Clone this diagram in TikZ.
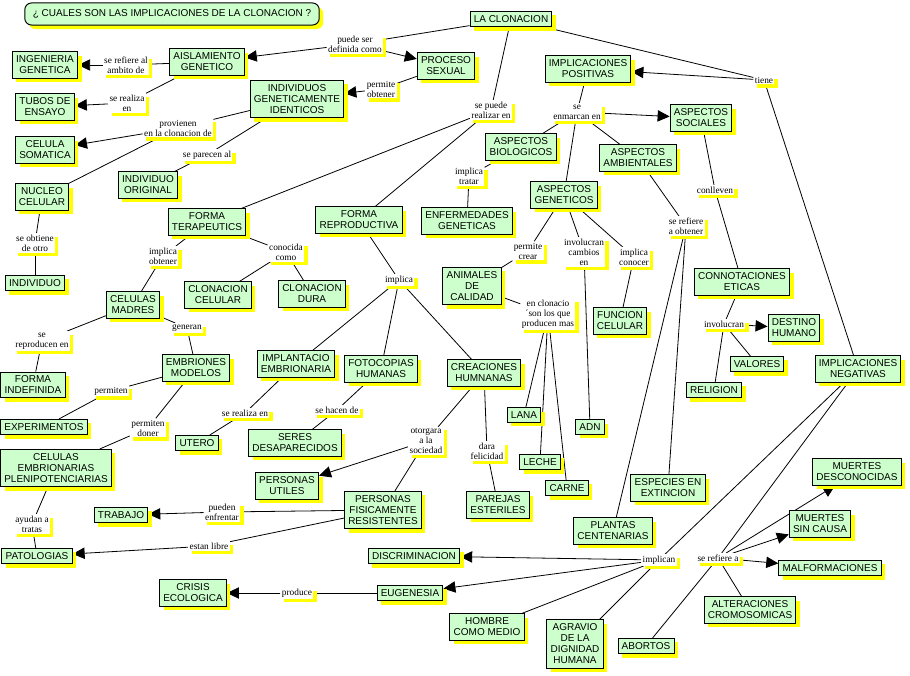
\documentclass[tikz,border=0pt]{standalone}
\usepackage{fontspec}
\setmainfont{Liberation Serif}
\newfontfamily\arialf{Liberation Sans}
\usetikzlibrary{arrows.meta,shadows,backgrounds}
\definecolor{cgreen}{RGB}{204,255,204}
\definecolor{cyel}{RGB}{255,255,0}
\newcommand{\cfnt}{\arialf\fontsize{7.5}{8.25}\selectfont}
\newcommand{\lfnt}{\rmfamily\fontsize{7}{7.5}\selectfont}
\begin{document}
\begin{tikzpicture}[x=0.75pt,y=-0.75pt,
  concept/.style={draw=black, line width=0.75pt, fill=cgreen, font=\cfnt, align=center,
    inner xsep=2.8pt, inner ysep=3pt,
    drop shadow={shadow xshift=3pt, shadow yshift=-3pt, fill=cyel, draw=none, opacity=1}},
  lbl/.style={fill=white, font=\lfnt, align=center, inner sep=1pt,
    drop shadow={shadow xshift=2.5pt, shadow yshift=-2.5pt, fill=cyel, draw=none, opacity=1}},
  conn/.style={line width=0.6pt, black},
  arr/.style={conn, -{Triangle[length=9pt,width=8.5pt]}}]
\useasboundingbox (0,0) rectangle (910,675);

% title
\node[concept, rounded corners=5pt, inner xsep=6pt, inner ysep=5pt] (title) at (172,14) {¿ CUALES SON LAS IMPLICACIONES DE LA CLONACION ?};

% concepts
\node[concept] (clon) at (511,19) {LA CLONACION};
\node[concept] (aisl) at (207,62) {AISLAMIENTO\\GENETICO};
\node[concept] (ing) at (45,65) {INGENIERIA\\GENETICA};
\node[concept] (tubos) at (45,107) {TUBOS DE\\ENSAYO};
\node[concept] (indiv) at (297,99) {INDIVIDUOS\\GENETICAMENTE\\IDENTICOS};
\node[concept] (proc) at (446,66) {PROCESO\\SEXUAL};
\node[concept] (celsom) at (45,150) {CELULA\\SOMATICA};
\node[concept] (indorig) at (148,185) {INDIVIDUO\\ORIGINAL};
\node[concept] (nucleo) at (42,197) {NUCLEO\\CELULAR};
\node[concept] (individuo) at (35,283) {INDIVIDUO};
\node[concept] (terap) at (207,222) {FORMA\\TERAPEUTICS};
\node[concept] (repro) at (359,220) {FORMA\\REPRODUCTIVA};
\node[concept] (implpos) at (588,69) {IMPLICACIONES\\POSITIVAS};
\node[concept] (soc) at (701,118) {ASPECTOS\\SOCIALES};
\node[concept] (bio) at (521,147) {ASPECTOS\\BIOLOGICOS};
\node[concept] (enf) at (467,221) {ENFERMEDADES\\GENETICAS};
\node[concept] (amb) at (638,158) {ASPECTOS\\AMBIENTALES};
\node[concept] (gen) at (564,195) {ASPECTOS\\GENETICOS};
\node[concept] (anim) at (472,286) {ANIMALES\\DE\\CALIDAD};
\node[concept] (adn) at (590,427) {ADN};
\node[concept] (func) at (620,321) {FUNCION\\CELULAR};
\node[concept] (lana) at (524,415) {LANA};
\node[concept] (leche) at (540,462) {LECHE};
\node[concept] (carne) at (567,488) {CARNE};
\node[concept] (plantas) at (613,531) {PLANTAS\\CENTENARIAS};
\node[concept] (especies) at (668,488) {ESPECIES EN\\EXTINCION};
\node[concept] (connot) at (742,282) {CONNOTACIONES\\ETICAS};
\node[concept] (destino) at (794,328) {DESTINO\\HUMANO};
\node[concept] (valores) at (757,364) {VALORES};
\node[concept] (religion) at (714,390) {RELIGION};
\node[concept] (implneg) at (858,369) {IMPLICACIONES\\NEGATIVAS};
\node[concept] (discr) at (414,556) {DISCRIMINACION};
\node[concept] (eug) at (410,593) {EUGENESIA};
\node[concept] (crisis) at (193,593) {CRISIS\\ECOLOGICA};
\node[concept] (hombre) at (487,627) {HOMBRE\\COMO MEDIO};
\node[concept] (agravio) at (575,644) {AGRAVIO\\DE LA\\DIGNIDAD\\HUMANA};
\node[concept] (mdesc) at (857,472) {MUERTES\\DESCONOCIDAS};
\node[concept] (msin) at (820,524) {MUERTES\\SIN CAUSA};
\node[concept] (malf) at (830,568) {MALFORMACIONES};
\node[concept] (alter) at (750,610) {ALTERACIONES\\CROMOSOMICAS};
\node[concept] (abortos) at (646,646) {ABORTOS};
\node[concept] (clcel) at (218,295) {CLONACION\\CELULAR};
\node[concept] (cldura) at (312,294) {CLONACION\\DURA};
\node[concept] (celmad) at (133,305) {CELULAS\\MADRES};
\node[concept] (formind) at (33,385) {FORMA\\INDEFINIDA};
\node[concept] (embr) at (196,368) {EMBRIONES\\MODELOS};
\node[concept] (exper) at (44,427) {EXPERIMENTOS};
\node[concept] (celemb) at (56,468) {CELULAS\\EMBRIONARIAS\\PLENIPOTENCIARIAS};
\node[concept] (patol) at (37,556) {PATOLOGIAS};
\node[concept] (implant) at (296,364) {IMPLANTACIO\\EMBRIONARIA};
\node[concept] (fotoc) at (381,369) {FOTOCOPIAS\\HUMANAS};
\node[concept] (creac) at (484,373) {CREACIONES\\HUMNANAS};
\node[concept] (utero) at (197,443) {UTERO};
\node[concept] (seres) at (295,443) {SERES\\DESAPARECIDOS};
\node[concept] (putiles) at (287,486) {PERSONAS\\UTILES};
\node[concept] (pfr) at (383,510) {PERSONAS\\FISICAMENTE\\RESISTENTES};
\node[concept] (trabajo) at (121,515) {TRABAJO};
\node[concept] (parejas) at (498,505) {PAREJAS\\ESTERILES};

% linking phrases
\node[lbl] (l1) at (126,65) {se refiere al\\ambito de};
\node[lbl] (l2) at (127,103) {se realiza\\en};
\node[lbl] (l3) at (355,44) {puede ser\\definida como};
\node[lbl] (l4) at (381,89) {permite\\obtener};
\node[lbl] (l5) at (178,128) {provienen\\en la clonacion de};
\node[lbl] (l6) at (207,155) {se parecen al};
\node[lbl] (l7) at (35,243) {se obtiene\\de otro};
\node[lbl] (l8) at (491,110) {se puede\\realizar en};
\node[lbl] (l9) at (764,80) {tiene};
\node[lbl] (l10) at (577,112) {se\\enmarcan en};
\node[lbl] (l11) at (469,176) {implica\\tratar};
\node[lbl] (l12) at (528,251) {permite\\crear};
\node[lbl] (l13) at (584,252) {involucran\\cambios\\en};
\node[lbl] (l14) at (634,257) {implica\\conocer};
\node[lbl] (l15) at (548,314) {en clonacio\\´son los que\\producen mas};
\node[lbl] (l16) at (686,226) {se refiere\\a obtener};
\node[lbl] (l17) at (715,190) {conlleven};
\node[lbl] (l18) at (724,324) {involucran};
\node[lbl] (l19) at (659,560) {implican};
\node[lbl] (l20) at (718,558) {se refiere a};
\node[lbl] (l21) at (297,593) {produce};
\node[lbl] (l22) at (286,252) {conocida\\como};
\node[lbl] (l23) at (163,256) {implica\\obtener};
\node[lbl] (l24) at (42,341) {se\\reproducen en};
\node[lbl] (l25) at (187,328) {generan};
\node[lbl] (l26) at (111,391) {permiten};
\node[lbl] (l27) at (148,428) {permiten\\doner};
\node[lbl] (l28) at (32,524) {ayudan a\\tratas};
\node[lbl] (l29) at (399,280) {implica};
\node[lbl] (l30) at (245,413) {se realiza en};
\node[lbl] (l31) at (337,410) {se hacen de};
\node[lbl] (l32) at (426,441) {otorgara\\a la\\sociedad};
\node[lbl] (l33) at (222,512) {pueden\\enfrentar};
\node[lbl] (l34) at (209,546) {estan libre};
\node[lbl] (l35) at (487,451) {dara\\felicidad};

\begin{pgfonlayer}{background}
\fill[white] (0,0) rectangle (910,675);
\draw[conn] (aisl) -- (l1); \draw[arr] (l1) -- (ing);
\draw[conn] (aisl) -- (l2); \draw[arr] (l2) -- (tubos);
\draw[conn] (clon) -- (l3); \draw[arr] (l3) -- (aisl); \draw[arr] (l3) -- (proc);
\draw[conn] (proc) -- (l4); \draw[arr] (l4) -- (indiv);
\draw[conn] (indiv) -- (l5); \draw[arr] (l5) -- (celsom); \draw[conn] (l5) -- (nucleo);
\draw[conn] (indiv) -- (l6); \draw[conn] (l6) -- (indorig);
\draw[conn] (nucleo) -- (l7); \draw[conn] (l7) -- (individuo);
\draw[conn] (clon) -- (l8); \draw[conn] (l8) -- (terap); \draw[conn] (l8) -- (repro);
\draw[conn] (clon) -- (l9); \draw[arr] (l9) -- (implpos); \draw[conn] (l9) -- (implneg);
\draw[conn] (implpos) -- (l10); \draw[arr] (l10) -- (soc);
\draw[conn] (l10) -- (bio); \draw[conn] (l10) -- (gen); \draw[conn] (l10) -- (amb);
\draw[conn] (bio) -- (l11); \draw[conn] (l11) -- (enf);
\draw[conn] (gen) -- (l12); \draw[conn] (l12) -- (anim);
\draw[conn] (gen) -- (l13); \draw[conn] (l13) -- (adn);
\draw[conn] (gen) -- (l14); \draw[conn] (l14) -- (func);
\draw[conn] (anim) -- (l15); \draw[conn] (l15) -- (lana);
\draw[conn] (l15) -- (leche); \draw[conn] (l15) -- (carne);
\draw[conn] (amb) -- (l16); \draw[conn] (l16) -- (plantas); \draw[conn] (l16) -- (especies);
\draw[conn] (soc) -- (l17); \draw[conn] (l17) -- (connot);
\draw[conn] (connot) -- (l18); \draw[arr] (l18) -- (destino);
\draw[conn] (l18) -- (valores); \draw[conn] (l18) -- (religion);
\draw[conn] (implneg) -- (l19); \draw[conn] (implneg) -- (l20);
\draw[arr] (l19) -- (discr); \draw[arr] (l19) -- (eug);
\draw[conn] (l19) -- (hombre); \draw[conn] (l19) -- (agravio);
\draw[arr] (l20) -- (mdesc); \draw[arr] (l20) -- (msin); \draw[arr] (l20) -- (malf);
\draw[conn] (l20) -- (alter); \draw[conn] (l20) -- (abortos);
\draw[conn] (eug) -- (l21); \draw[arr] (l21) -- (crisis);
\draw[conn] (terap) -- (l22); \draw[conn] (l22) -- (clcel); \draw[conn] (l22) -- (cldura);
\draw[conn] (terap) -- (l23); \draw[conn] (l23) -- (celmad);
\draw[conn] (celmad) -- (l24); \draw[conn] (l24) -- (formind);
\draw[conn] (celmad) -- (l25); \draw[conn] (l25) -- (embr);
\draw[conn] (embr) -- (l26); \draw[conn] (l26) -- (exper);
\draw[conn] (embr) -- (l27); \draw[conn] (l27) -- (celemb);
\draw[conn] (celemb) -- (l28); \draw[conn] (l28) -- (patol);
\draw[conn] (repro) -- (l29); \draw[conn] (l29) -- (implant);
\draw[conn] (l29) -- (fotoc); \draw[conn] (l29) -- (creac);
\draw[conn] (implant) -- (l30); \draw[conn] (l30) -- (utero);
\draw[conn] (fotoc) -- (l31); \draw[conn] (l31) -- (seres);
\draw[conn] (creac) -- (l32); \draw[arr] (l32) -- (putiles); \draw[conn] (l32) -- (pfr);
\draw[conn] (pfr) -- (l33); \draw[arr] (l33) -- (trabajo);
\draw[conn] (pfr) -- (l34); \draw[arr] (l34) -- (patol);
\draw[conn] (creac) -- (l35); \draw[conn] (l35) -- (parejas);
\end{pgfonlayer}
\end{tikzpicture}
\end{document}
